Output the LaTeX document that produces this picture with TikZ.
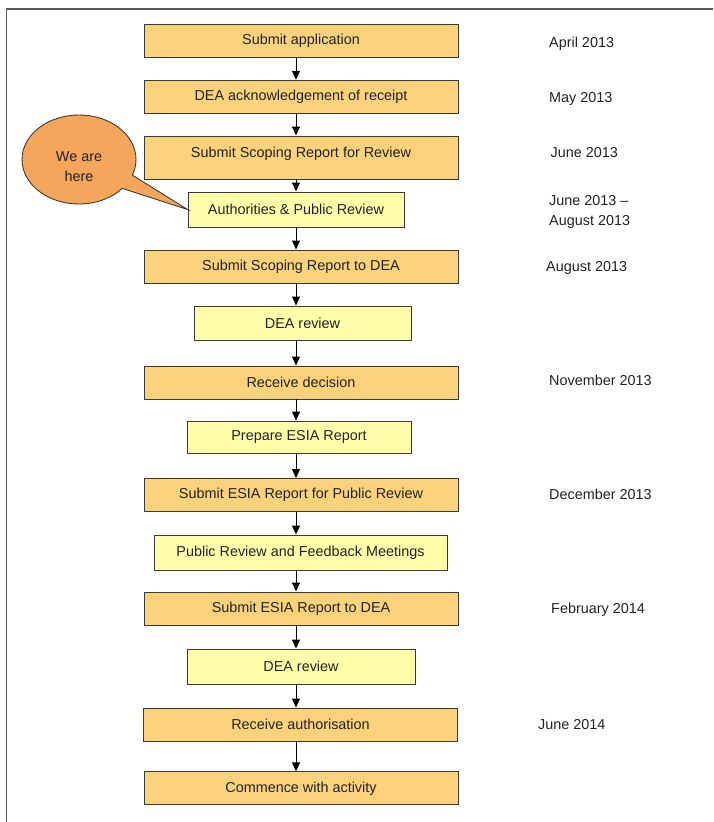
\documentclass[tikz,border=0pt]{standalone}
\usepackage{fontspec}
\setmainfont{Liberation Sans}
\usepackage{color}
\usepackage{tikz}
\usetikzlibrary{shapes.callouts}
\usetikzlibrary{arrows.meta}
\definecolor{mainfill}{RGB}{252,210,122}
\definecolor{reviewfill}{RGB}{255,255,170}
\definecolor{herefill}{RGB}{245,166,90}
\definecolor{boxline}{RGB}{58,58,58}
\definecolor{inktext}{RGB}{34,34,34}
\definecolor{framegray}{RGB}{90,90,90}

\begin{document}
\begin{tikzpicture}[x=1pt,y=-1pt,font=\fontsize{14.4}{20}\selectfont,text=inktext,
  mainstep/.style={draw=boxline,line width=0.9pt,fill=mainfill,minimum width=314pt,minimum height=33pt,inner sep=0pt},
  review/.style={draw=boxline,line width=0.9pt,fill=reviewfill,minimum height=34pt,inner sep=0pt},
  date/.style={anchor=base west,inner sep=0pt},
  flow/.style={draw=black,line width=0.9pt,-{Triangle[length=9pt,width=8pt]}}]
\useasboundingbox (0,0) rectangle (713,822);
\draw[framegray,line width=1.4pt] (6.5,822) -- (6.5,9) -- (713,9);
\coordinate (spine) at (296,0);

% the steps
\node [mainstep] (s1) at (301,40.8) {Submit application};
\node [mainstep] (s2) at (301,96.7) {DEA acknowledgement of receipt};
\node [mainstep,minimum height=43pt,text height=10pt,text depth=11pt] (s3) at (301,157.5) {Submit Scoping Report for Review};
\node [review,minimum width=216pt,minimum height=35pt] (s4) at (296,209.5) {Authorities \& Public Review};
\node [mainstep] (s5) at (301,266.5) {Submit Scoping Report to DEA};
\node [review,minimum width=217pt] (s6) at (302.5,323) {DEA review};
\node [mainstep] (s7) at (301,382.5) {Receive decision};
\node [review,minimum width=224pt,minimum height=32pt] (s8) at (299,437) {Prepare ESIA Report};
\node [mainstep] (s9) at (301,495) {Submit ESIA Report for Public Review};
\node [review,minimum width=293pt,minimum height=35pt] (s10) at (300.5,552.5) {Public Review and Feedback Meetings};
\node [mainstep] (s11) at (301,608.5) {Submit ESIA Report to DEA};
\node [review,minimum width=228pt,minimum height=35pt] (s12) at (301,666.5) {DEA review};
\node [mainstep] (s13) at (300.5,724.5) {Receive authorisation};
\node [mainstep] (s14) at (301,788.3) {Commence with activity};

\draw[flow] (s1.south -| spine) -- (s2.north -| spine);
\draw[flow] (s2.south -| spine) -- (s3.north -| spine);
\draw[flow] (s3.south -| spine) -- (s4.north -| spine);
\draw[flow] (s4.south -| spine) -- (s5.north -| spine);
\draw[flow] (s5.south -| spine) -- (s6.north -| spine);
\draw[flow] (s6.south -| spine) -- (s7.north -| spine);
\draw[flow] (s7.south -| spine) -- (s8.north -| spine);
\draw[flow] (s8.south -| spine) -- (s9.north -| spine);
\draw[flow] (s9.south -| spine) -- (s10.north -| spine);
\draw[flow] (s10.south -| spine) -- (s11.north -| spine);
\draw[flow] (s11.south -| spine) -- (s12.north -| spine);
\draw[flow] (s12.south -| spine) -- (s13.north -| spine);
\draw[flow] (s13.south -| spine) -- (s14.north -| spine);

% dates
\node [date] (apr13) at (549,47.7) {April 2013};
\node [date] (may13) at (549,102.3) {May 2013};
\node [date] (jun13) at (550.5,157.7) {June 2013};
\node [anchor=west,inner sep=0pt,align=left] (junaug13) at (549,212) {June 2013 --\\August 2013};
\node [date] (aug13) at (546,271) {August 2013};
\node [date] (nov13) at (549,385) {November 2013};
\node [date] (dec13) at (549,499) {December 2013};
\node [date] (feb14) at (551,613) {February 2014};
\node [date] (jun14) at (538,729.5) {June 2014};

% callout
\node [ellipse callout,draw=boxline,line width=0.9pt,fill=herefill,minimum width=114pt,minimum height=89pt,
  inner sep=0pt,align=center,text height=43pt,text depth=0pt,callout pointer arc=20,
  callout absolute pointer={(s4.west)}] (here) at (79,159.5) {We are\\here};
\end{tikzpicture}
\end{document}
